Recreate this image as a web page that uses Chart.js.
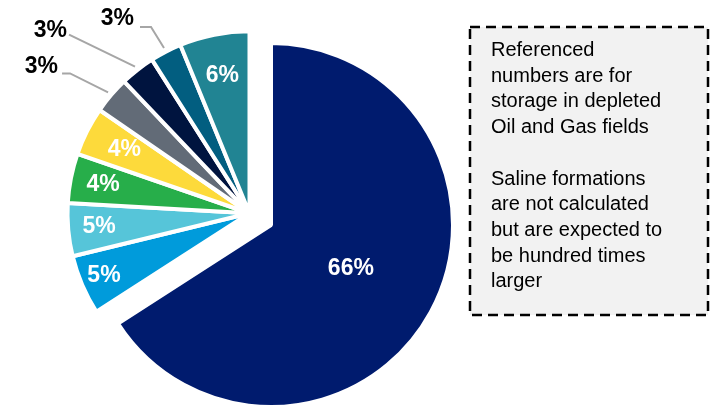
<!DOCTYPE html>
<html>
<head>
<meta charset="utf-8">
<script src="https://cdn.jsdelivr.net/npm/chart.js@4.4.1/dist/chart.umd.min.js"></script>
<style>
html, body { margin: 0; padding: 0; background: #fff; }
#wrap { position: relative; width: 718px; height: 411px; }
#nota {
  position: absolute; left: 491px; top: 37px;
  font: 20px "Liberation Sans", Arial, sans-serif;
  line-height: 25.7px; color: #000; white-space: nowrap;
}
</style>
</head>
<body>
<div id="wrap">
  <canvas id="myChart" width="718" height="411"></canvas>
  <div id="nota">Referenced<br>numbers are for<br>storage in depleted<br>Oil and Gas fields<br><br>Saline formations<br>are not calculated<br>but are expected to<br>be hundred times<br>larger</div>
</div>
<script>
// datos (porcentaje de cada porcion, sentido horario desde arriba)
const categorias = ['Cat 1', 'Cat 2', 'Cat 3', 'Cat 4', 'Cat 5', 'Cat 6', 'Cat 7', 'Cat 8', 'Cat 9']
const valores = [65.9, 5.3, 4.7, 4.4, 4.3, 3.3, 3.1, 2.8, 6.2]
const etiquetas = ['66%', '5%', '5%', '4%', '4%', '3%', '3%', '3%', '6%']
const colores = ['#001B6E', '#009BDB', '#56C5D9', '#27AE4A', '#FDDA3B', '#626B77', '#00143F', '#025E80', '#218493']

// las porciones chicas se separan juntas de la grande
const separar = {
  id: 'separar',
  afterDatasetsUpdate(chart, args, opts) {
    const arcs = chart.getDatasetMeta(0).data
    const mid = (arcs[1].startAngle + arcs[arcs.length - 1].endAngle) / 2
    for (let i = 1; i < arcs.length; i++) {
      arcs[i].x += Math.cos(mid) * opts.distancia
      arcs[i].y += Math.sin(mid) * opts.distancia
    }
  }
}

// recuadro punteado detras de la nota
const recuadro = {
  id: 'recuadro',
  beforeDraw(chart) {
    const ctx = chart.ctx
    ctx.save()
    ctx.fillStyle = '#F2F2F2'
    ctx.fillRect(470, 27, 238, 288)
    ctx.strokeStyle = '#000'
    ctx.lineWidth = 2.5
    ctx.setLineDash([10, 6])
    ctx.strokeRect(470, 27, 238, 288)
    ctx.restore()
  }
}

const rotulos = {
  id: 'rotulos',
  afterDatasetsDraw(chart, args, opts) {
    const ctx = chart.ctx
    const arcs = chart.getDatasetMeta(0).data
    ctx.save()
    ctx.font = 'bold 23px "Liberation Sans", Arial, sans-serif'
    ctx.textBaseline = 'middle'
    arcs.forEach((arc, i) => {
      const mid = (arc.startAngle + arc.endAngle) / 2
      const guia = opts.guias[i]
      if (guia) {
        const r0 = arc.outerRadius + 4
        const x0 = arc.x + Math.cos(mid) * r0
        const y0 = arc.y + Math.sin(mid) * r0
        const x1 = x0 + guia.codo[0], y1 = y0 + guia.codo[1]
        const x2 = x1 + guia.tramo
        ctx.strokeStyle = '#A6A6A6'
        ctx.lineWidth = 2
        ctx.beginPath()
        ctx.moveTo(x0, y0)
        ctx.lineTo(x1, y1)
        ctx.lineTo(x2, y1)
        ctx.stroke()
        ctx.fillStyle = '#000'
        ctx.textAlign = 'right'
        ctx.fillText(etiquetas[i], x2 + guia.texto[0], y1 + guia.texto[1])
      } else {
        const r = arc.outerRadius * opts.radios[i]
        ctx.fillStyle = '#fff'
        ctx.textAlign = 'center'
        ctx.fillText(etiquetas[i], arc.x + Math.cos(mid) * r, arc.y + Math.sin(mid) * r)
      }
    })
    ctx.restore()
  }
}

const data = {
  labels: categorias,
  datasets: [{
    data: valores,
    backgroundColor: colores,
    borderColor: '#fff',
    borderWidth: 4
  }]
}

const config = {
  type: 'pie',
  data: data,
  options: {
    responsive: false,
    animation: false,
    events: [],
    layout: { padding: { left: 87, right: 263, top: 41, bottom: 2 } },
    plugins: {
      legend: { display: false },
      tooltip: { enabled: false },
      separar: { distancia: 24.5 },
      rotulos: {
        radios: [0.5, 0.87, 0.83, 0.82, 0.77, 0, 0, 0, 0.77],
        guias: {
          5: { codo: [-38, -19], tramo: -8, texto: [-4, -7] },
          6: { codo: [-66, -32], tramo: 0, texto: [-2, -4] },
          7: { codo: [-13, -21], tramo: -11, texto: [-6, -8] }
        }
      }
    }
  },
  plugins: [recuadro, separar, rotulos]
}

const myChart = new Chart(document.getElementById('myChart'), config)
</script>
</body>
</html>
